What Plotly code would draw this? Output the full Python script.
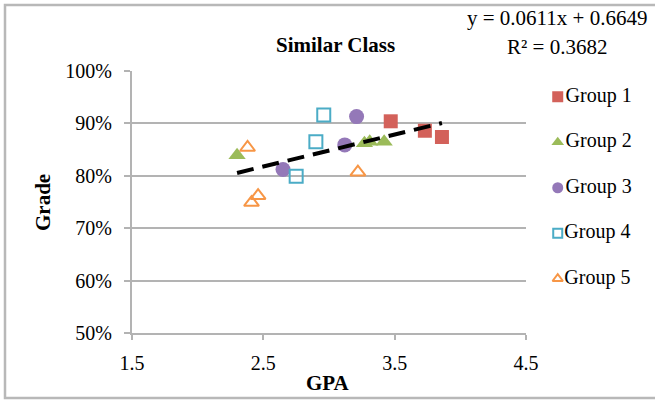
import plotly.graph_objects as go

# GPA / grade pairs for each study group
g1_gpa = [3.47, 3.73, 3.86]
g1_grade = [0.904, 0.886, 0.874]
g2_gpa = [2.30, 3.27, 3.31, 3.42]
g2_grade = [0.839, 0.862, 0.865, 0.865]
g3_gpa = [3.21, 3.12, 2.65]
g3_grade = [0.913, 0.859, 0.812]
g4_gpa = [2.96, 2.90, 2.75]
g4_grade = [0.916, 0.865, 0.799]
g5_gpa = [2.38, 3.22, 2.46, 2.41]
g5_grade = [0.854, 0.807, 0.762, 0.749]

group_names = ["Group 1", "Group 2", "Group 3", "Group 4", "Group 5"]

# linear trendline fitted over all groups
slope = 0.0611
intercept = 0.6649
r_squared = 0.3682

W, H = 655, 401
L, R, T, B = 132, 526, 71, 333  # plot area edges in pixels

FONT = "Liberation Serif, Times New Roman, serif"
GRID = "#B3B3B3"


def fx(px):
    return px / W


def fy(py):
    return 1 - py / H


fig = go.Figure()

series = [
    (g1_gpa, g1_grade, "square", "#D3615A", True),
    (g2_gpa, g2_grade, "triangle-up", "#9BBB59", True),
    (g3_gpa, g3_grade, "circle", "#9478B8", True),
    (g4_gpa, g4_grade, "square-open", "#4BACC6", False),
    (g5_gpa, g5_grade, "triangle-up-open", "#F79646", False),
]


def marker_style(sym, col, filled, size):
    m = dict(symbol=sym, size=size, color=col)
    m["line"] = dict(width=0) if filled else dict(width=2, color=col)
    return m


for i, (xs, ys, sym, col, filled) in enumerate(series):
    size = (14 if "square" in sym else 15) if filled else 13
    fig.add_trace(go.Scatter(
        x=xs, y=ys, mode="markers", name=group_names[i], showlegend=False,
        marker=marker_style(sym, col, filled, size),
    ))

all_gpa = g1_gpa + g2_gpa + g3_gpa + g4_gpa + g5_gpa
x0, x1 = min(all_gpa), max(all_gpa)
fig.add_trace(go.Scatter(
    x=[x0, x1], y=[slope * x0 + intercept, slope * x1 + intercept],
    mode="lines", showlegend=False,
    line=dict(color="black", width=4, dash="17px,9px"),
))

# legend keys drawn on their own small axis to the right of the plot
for i, (xs, ys, sym, col, filled) in enumerate(series):
    fig.add_trace(go.Scatter(
        x=[0], y=[i], mode="markers+text", text=[group_names[i]],
        textposition="middle right", textfont=dict(size=20, family=FONT),
        marker=marker_style(sym, col, filled, 11 if filled else 9),
        xaxis="x2", yaxis="y2", showlegend=False, hoverinfo="skip",
        cliponaxis=False,
    ))

n = len(group_names)
leg_top, leg_step = 74, 45.5

fig.update_layout(
    width=W, height=H,
    margin=dict(l=0, r=0, t=0, b=0, autoexpand=False),
    paper_bgcolor="white", plot_bgcolor="rgba(0,0,0,0)",
    font=dict(family=FONT, size=20, color="black"),
    showlegend=False,
    xaxis=dict(domain=[fx(L), fx(R)], range=[1.5, 4.5], dtick=1, tick0=1.5,
               tickformat=".1f", showgrid=False, zeroline=False,
               showline=True, linecolor=GRID, linewidth=2, ticks="outside",
               ticklen=5, tickcolor=GRID, tickwidth=2, ticklabelstandoff=6),
    yaxis=dict(domain=[fy(B), fy(T)], range=[0.5, 1.0], dtick=0.1,
               tickformat=".0%", showgrid=True, gridcolor=GRID, gridwidth=2,
               zeroline=False, showline=True, linecolor=GRID, linewidth=2,
               ticks="outside", ticklen=6, tickcolor=GRID, tickwidth=2,
               ticklabelstandoff=8),
    xaxis2=dict(domain=[fx(548), fx(655)], range=[-0.1, 1], visible=False,
                anchor="y2", fixedrange=True),
    yaxis2=dict(domain=[fy(leg_top + n * leg_step), fy(leg_top)],
                range=[n - 0.5, -0.5], visible=False, anchor="x2",
                fixedrange=True),
    annotations=[
        dict(text="<b>Similar Class</b>", x=fx(335), y=fy(45),
             font=dict(size=21)),
        dict(text="<b>Grade</b>", x=fx(43), y=fy(203), textangle=-90,
             font=dict(size=21)),
        dict(text="<b>GPA</b>", x=fx(328), y=fy(383), font=dict(size=21)),
        dict(text=f"y = {slope}x + {intercept}", x=fx(557), y=fy(18),
             font=dict(size=21)),
        dict(text=f"R² = {r_squared}", x=fx(557), y=fy(47),
             font=dict(size=21)),
    ],
    shapes=[dict(type="rect", xref="paper", yref="paper",
                 x0=fx(5), x1=fx(700), y0=fy(398), y1=fy(5),
                 line=dict(color="#B8B8B8", width=2.5), layer="below")],
)
fig.update_annotations(xref="paper", yref="paper", xanchor="center",
                       yanchor="middle", showarrow=False)

fig.write_html("out.html")
